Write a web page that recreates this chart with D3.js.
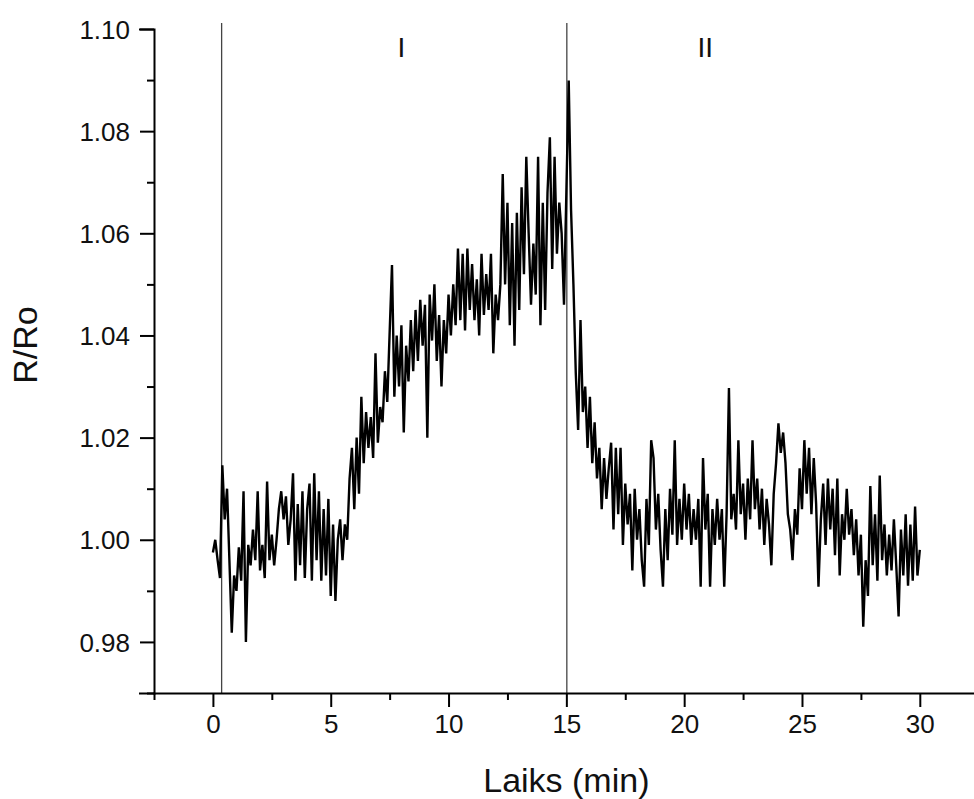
<!DOCTYPE html>
<html>
<head>
<meta charset="utf-8">
<script src="https://cdn.jsdelivr.net/npm/d3@7"></script>
<style>
  body { margin: 0; background: #fff; }
  svg { display: block; font-family: "Liberation Sans", Arial, sans-serif; }
  .axis path, .axis line { stroke: #000; stroke-width: 2; }
  .axis text { font-size: 26px; fill: #111; }
  .title { font-size: 34px; fill: #111; }
  .zone { font-size: 28px; fill: #111; }
</style>
</head>
<body>
<svg></svg>
<script>
var width = 974;
var height = 799;

// time axis: one reading every 0.1 min, 0 .. 30 min
var t0 = 0, dt = 0.1;

// R/Ro values, one row per minute
var ratio = [
  0.9975, 1.0000, 0.9960, 0.9925, 1.0146, 1.0040, 1.0100, 0.9960, 0.9818, 0.9930,
  0.9900, 0.9985, 0.9920, 1.0095, 0.9800, 0.9990, 0.9950, 1.0020, 0.9960, 1.0095,
  0.9940, 0.9990, 0.9925, 1.0114, 0.9960, 1.0010, 0.9950, 1.0000, 1.0060, 1.0095,
  1.0040, 1.0085, 0.9990, 1.0040, 1.0130, 0.9920, 1.0070, 0.9950, 1.0095, 0.9925,
  1.0060, 1.0110, 0.9920, 1.0130, 0.9960, 1.0095, 0.9920, 1.0060, 0.9930, 1.0080,
  0.9890, 1.0030, 0.9880, 1.0000, 1.0040, 0.9960, 1.0030, 1.0000, 1.0120, 1.0180,
  1.0060, 1.0200, 1.0090, 1.0280, 1.0150, 1.0250, 1.0180, 1.0240, 1.0160, 1.0365,
  1.0190, 1.0260, 1.0230, 1.0330, 1.0270, 1.0405, 1.0538, 1.0280, 1.0400, 1.0300,
  1.0420, 1.0210, 1.0380, 1.0310, 1.0430, 1.0330, 1.0450, 1.0350, 1.0470, 1.0380,
  1.0460, 1.0200, 1.0480, 1.0390, 1.0500, 1.0350, 1.0440, 1.0300, 1.0430, 1.0365,
  1.0480, 1.0400, 1.0500, 1.0420, 1.0570, 1.0430, 1.0560, 1.0410, 1.0570, 1.0450,
  1.0540, 1.0430, 1.0510, 1.0400, 1.0560, 1.0440, 1.0520, 1.0450, 1.0560, 1.0365,
  1.0480, 1.0430, 1.0500, 1.0716, 1.0500, 1.0660, 1.0420, 1.0620, 1.0380, 1.0640,
  1.0450, 1.0690, 1.0520, 1.0750, 1.0600, 1.0460, 1.0580, 1.0480, 1.0750, 1.0420,
  1.0660, 1.0450, 1.0680, 1.0788, 1.0530, 1.0750, 1.0560, 1.0660, 1.0600, 1.0460,
  1.0680, 1.0899, 1.0645, 1.0500, 1.0326, 1.0215, 1.0430, 1.0250, 1.0300, 1.0180,
  1.0280, 1.0150, 1.0230, 1.0120, 1.0180, 1.0060, 1.0160, 1.0080, 1.0140, 1.0190,
  1.0020, 1.0180, 1.0050, 1.0180, 0.9990, 1.0110, 1.0030, 1.0090, 0.9940, 1.0100,
  1.0000, 1.0060, 0.9960, 0.9908, 1.0080, 0.9990, 1.0195, 1.0160, 1.0020, 1.0090,
  0.9980, 0.9908, 1.0060, 0.9960, 1.0100, 1.0010, 1.0195, 0.9990, 1.0080, 1.0000,
  1.0110, 1.0020, 1.0090, 0.9990, 1.0060, 1.0000, 1.0080, 0.9908, 1.0160, 1.0020,
  1.0090, 0.9908, 1.0060, 0.9990, 1.0080, 1.0000, 1.0060, 0.9908, 1.0050, 1.0297,
  1.0040, 1.0090, 1.0020, 1.0195, 1.0050, 1.0110, 1.0000, 1.0120, 1.0040, 1.0195,
  1.0060, 1.0120, 1.0020, 1.0100, 0.9990, 1.0080, 1.0030, 0.9950, 1.0090, 1.0150,
  1.0228, 1.0170, 1.0210, 1.0150, 1.0050, 1.0020, 0.9960, 1.0060, 1.0010, 1.0140,
  1.0060, 1.0195, 1.0090, 1.0180, 1.0050, 1.0160, 1.0070, 0.9908, 1.0040, 1.0110,
  0.9990, 1.0120, 1.0020, 1.0100, 0.9970, 1.0120, 0.9930, 1.0050, 1.0000, 1.0100,
  1.0010, 1.0060, 0.9970, 1.0040, 0.9930, 1.0010, 0.9830, 0.9960, 0.9890, 1.0105,
  0.9950, 1.0050, 0.9920, 1.0126, 0.9960, 1.0030, 0.9930, 1.0010, 0.9940, 1.0040,
  0.9950, 0.9850, 1.0020, 0.9930, 1.0050, 0.9910, 1.0030, 0.9920, 1.0065, 0.9930,
  0.9980
];

// phase boundaries (min) and phase labels
var phaseLines = [0.37, 15.02];
var phaseNames = ["I", "II"];
var phaseLabelX = [8.0, 20.9];

var xMajor = [0, 5, 10, 15, 20, 25, 30];
var xMinor = [-2.5, 2.5, 7.5, 12.5, 17.5, 22.5, 27.5];
var yMajor = [0.98, 1.00, 1.02, 1.04, 1.06, 1.08, 1.10];
var yMinor = [0.97, 0.99, 1.01, 1.03, 1.05, 1.07, 1.09];

var svg = d3.select("svg")
    .attr("width", width)
    .attr("height", height);

var x = d3.scaleLinear().domain([-2.5, 32.3]).range([154, 974]);
var y = d3.scaleLinear().domain([0.97, 1.10]).range([693, 29]);

var data = ratio.map(function(v, i) { return {t: t0 + i * dt, v: v}; });

// phase boundary lines
svg.append("g").selectAll("line")
    .data(phaseLines)
    .enter()
    .append("line")
    .attr("x1", function(d) { return x(d); })
    .attr("x2", function(d) { return x(d); })
    .attr("y1", y(1.10) - 6)
    .attr("y2", y(0.97))
    .attr("stroke", "#444")
    .attr("stroke-width", 1.3);

svg.append("g").selectAll("text")
    .data(phaseNames)
    .enter()
    .append("text")
    .attr("class", "zone")
    .attr("x", function(d, i) { return x(phaseLabelX[i]); })
    .attr("y", 57)
    .attr("text-anchor", "middle")
    .text(function(d) { return d; });

// trace
var line = d3.line()
    .x(function(d) { return x(d.t); })
    .y(function(d) { return y(d.v); });

svg.append("path")
    .datum(data)
    .attr("d", line)
    .attr("fill", "none")
    .attr("stroke", "#000")
    .attr("stroke-width", 2.4)
    .attr("stroke-linejoin", "miter");

// axes
var yAxis = svg.append("g")
    .attr("class", "axis")
    .attr("transform", "translate(154,0)")
    .call(d3.axisLeft(y).tickValues(yMajor).tickSize(14).tickPadding(10)
        .tickFormat(d3.format(".2f")));

svg.append("g")
    .attr("class", "axis")
    .attr("transform", "translate(154,0)")
    .call(d3.axisLeft(y).tickValues(yMinor).tickSize(7).tickFormat(""))
    .select(".domain").remove();

yAxis.selectAll("text").attr("dy", "0.35em");

var xAxis = svg.append("g")
    .attr("class", "axis")
    .attr("transform", "translate(0,693)")
    .call(d3.axisBottom(x).tickValues(xMajor).tickSize(14).tickPadding(8)
        .tickSizeOuter(0));

svg.append("g")
    .attr("class", "axis")
    .attr("transform", "translate(0,693)")
    .call(d3.axisBottom(x).tickValues(xMinor).tickSize(7).tickFormat(""))
    .select(".domain").remove();

xAxis.selectAll("text").attr("dy", "0.71em");

svg.selectAll(".axis .domain").attr("stroke-linecap", "square");

// titles
svg.append("text")
    .attr("class", "title")
    .attr("x", x(15))
    .attr("y", 792)
    .attr("text-anchor", "middle")
    .text("Laiks (min)");

svg.append("text")
    .attr("class", "title")
    .attr("transform", "translate(37,345) rotate(-90)")
    .attr("text-anchor", "middle")
    .text("R/Ro");
</script>
</body>
</html>
